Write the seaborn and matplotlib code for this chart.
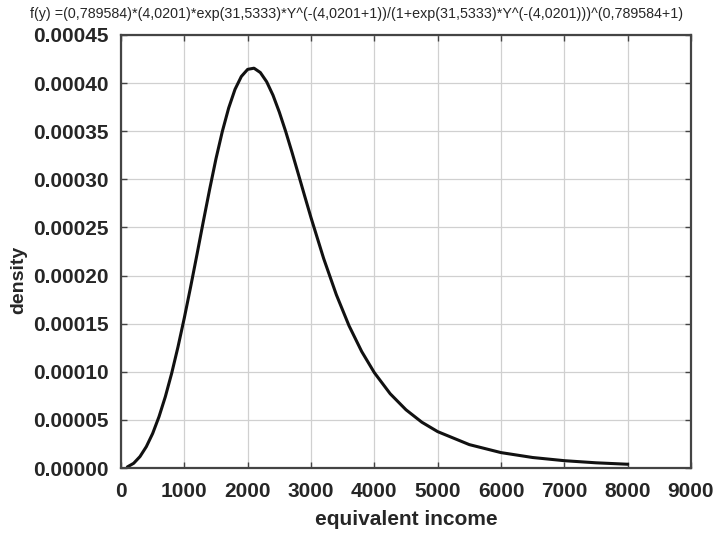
import matplotlib
matplotlib.use("Agg")
import matplotlib.pyplot as plt
import seaborn as sns
import pandas as pd

income = [100, 200, 300, 400, 500, 600, 700, 800, 900, 1000,
          1100, 1200, 1300, 1400, 1500, 1600, 1700, 1800, 1900, 2000,
          2100, 2200, 2300, 2400, 2500, 2600, 2700, 2800, 2900, 3000,
          3200, 3400, 3600, 3800, 4000, 4250, 4500, 4750, 5000,
          5500, 6000, 6500, 7000, 7500, 8000]
density = [0.0000011, 0.0000049, 0.0000119, 0.0000222, 0.0000359, 0.0000533, 0.0000741, 0.0000984, 0.0001259, 0.0001561,
           0.0001884, 0.0002220, 0.0002563, 0.0002897, 0.0003215, 0.0003498, 0.0003741, 0.0003935, 0.0004069, 0.0004143,
           0.0004155, 0.0004110, 0.0004014, 0.0003874, 0.0003698, 0.0003498, 0.0003281, 0.0003055, 0.0002827, 0.0002602,
           0.0002177, 0.0001801, 0.0001479, 0.0001211, 0.0000991, 0.0000772, 0.0000605, 0.0000476, 0.0000378,
           0.0000243, 0.0000160, 0.0000109, 0.0000076, 0.0000054, 0.0000039]
xticks = [0, 1000, 2000, 3000, 4000, 5000, 6000, 7000, 8000, 9000]
yticks = [0.0, 0.00005, 0.0001, 0.00015, 0.0002, 0.00025, 0.0003, 0.00035, 0.0004, 0.00045]
title = "f(y) =(0,789584)*(4,0201)*exp(31,5333)*Y^(-(4,0201+1))/(1+exp(31,5333)*Y^(-(4,0201)))^(0,789584+1)"

df = pd.DataFrame({"income": income, "density": density})

sns.set_style("white")
plt.rcParams['font.family'] = ['Liberation Sans', 'DejaVu Sans']

fig = plt.figure(figsize=(7.13, 5.35), dpi=100)
ax = fig.add_axes([121/713, 1 - 468/535, 570/713, 433/535])
sns.lineplot(data=df, x="income", y="density", ax=ax, color="#111111", linewidth=2.2)

ax.set_xlim(0, 9000)
ax.set_ylim(0, 0.00045)
ax.set_xticks(xticks)
ax.set_yticks(yticks)
ax.set_xticklabels([str(v) for v in xticks], fontsize=15, fontweight="bold")
ax.set_yticklabels([f"{v:.5f}" for v in yticks], fontsize=15, fontweight="bold")
ax.grid(True, color="#d0d0d0", linewidth=0.9)
ax.tick_params(axis="y", direction="in", length=4, width=1, color="#444444", pad=9,
               left=True, right=True)
ax.tick_params(axis="x", direction="in", length=4, width=1, color="#444444", pad=10,
               top=True, bottom=True)
for s in ax.spines.values():
    s.set_visible(True)
    s.set_color("#444444")
    s.set_linewidth(1.6)
ax.set_xlabel("equivalent income", fontsize=15, fontweight="bold")
ax.set_ylabel("density", fontsize=14, fontweight="bold")
ax.xaxis.set_label_coords(0.5, -0.097)
ax.yaxis.set_label_coords(-0.165, 0.435)

fig.text(0.5, 0.987, title, ha="center", va="top", fontsize=10.3)

fig.savefig("out.png", dpi=100)
